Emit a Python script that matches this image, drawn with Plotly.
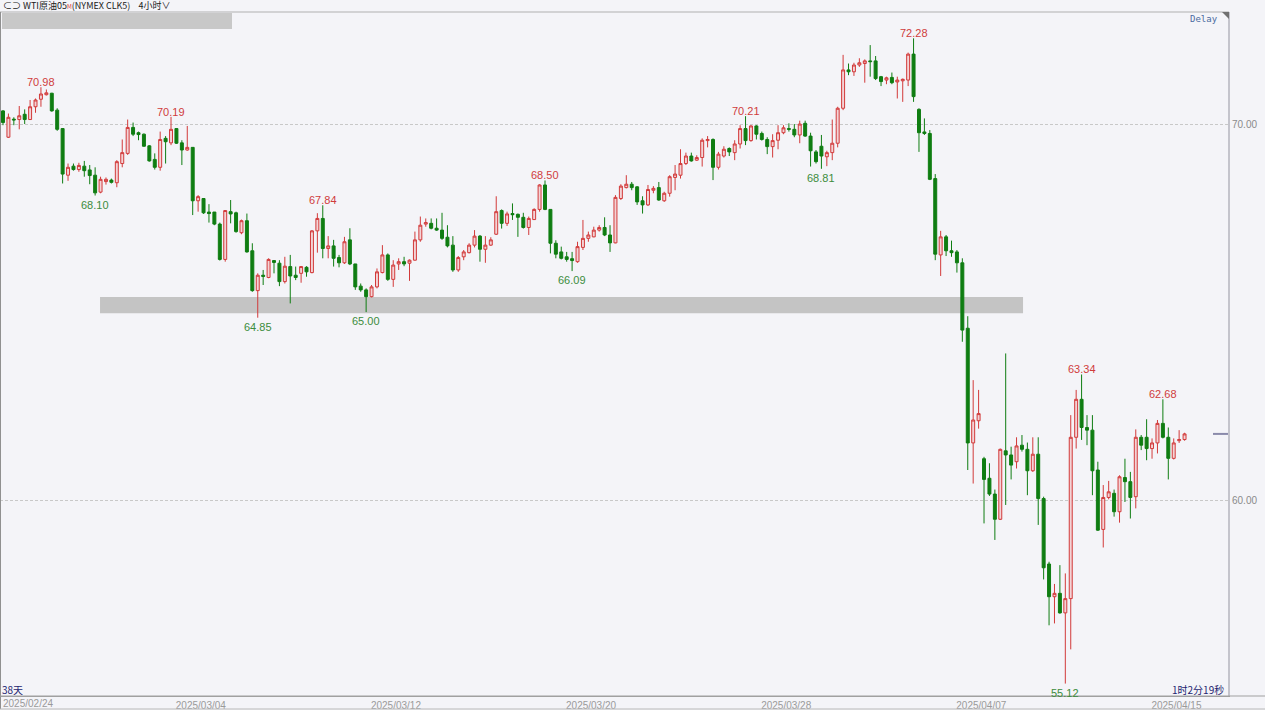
import plotly.graph_objects as go

# ---------------- data (4-hour WTI candles) ----------------
opens = [70.35, 69.65, 70.13, 70.12, 70.26, 70.12, 70.46, 70.66, 70.78, 70.82,
         70.37, 69.88, 68.64, 68.88, 68.79, 68.88, 68.78, 68.64, 68.19, 68.47,
         68.51, 68.44, 68.95, 69.22, 69.91, 69.77, 69.73, 69.42, 69.06, 68.85,
         69.62, 69.50, 69.88, 69.50, 69.31, 69.38, 67.96, 68.02, 67.66, 67.66,
         67.34, 66.40, 67.67, 67.64, 67.11, 67.43, 66.63, 65.57, 65.98, 65.92,
         66.37, 66.30, 65.81, 66.21, 65.98, 66.03, 66.19, 66.05, 67.16, 67.49,
         66.69, 66.76, 66.45, 66.31, 66.92, 66.28, 65.69, 65.59, 65.41, 65.67,
         66.05, 66.52, 65.87, 66.28, 66.34, 66.30, 66.38, 66.92, 67.34, 67.36,
         67.23, 67.18, 66.99, 66.78, 66.12, 66.47, 66.58, 66.78, 67.02, 66.67,
         66.78, 67.07, 67.70, 67.36, 67.62, 67.60, 67.52, 67.25, 67.46, 67.73,
         68.38, 67.73, 66.83, 66.60, 66.47, 66.42, 66.34, 66.72, 66.96, 67.00,
         67.18, 67.25, 67.05, 66.84, 68.02, 68.31, 68.40, 68.33, 67.96, 67.85,
         68.24, 68.31, 67.96, 68.16, 68.58, 68.64, 68.95, 69.15, 69.04, 69.11,
         69.56, 69.59, 68.85, 69.15, 69.35, 69.24, 69.47, 69.88, 69.56, 69.95,
         69.75, 69.59, 69.40, 69.57, 69.77, 69.88, 69.86, 69.71, 70.02, 69.68,
         69.26, 69.41, 69.13, 69.24, 69.49, 70.42, 71.44, 71.39, 71.57, 71.61,
         71.68, 71.68, 71.26, 71.17, 71.24, 71.12, 71.15, 71.17, 71.86, 70.39,
         69.79, 69.75, 68.55, 66.52, 67.00, 66.63, 66.60, 66.31, 64.57, 61.52,
         62.11, 61.10, 60.58, 60.16, 59.49, 61.31, 61.20, 61.02, 61.46, 61.35,
         60.78, 61.22, 60.04, 58.30, 57.43, 57.52, 57.00, 57.38, 61.67, 62.68,
         61.93, 61.86, 60.80, 59.22, 60.07, 60.18, 59.69, 60.60, 60.49, 60.09,
         61.67, 61.67, 61.37, 61.52, 62.04, 61.67, 61.11, 61.58, 61.61]
highs = [70.37, 70.28, 70.18, 70.48, 70.39, 70.64, 70.68, 70.98, 70.92, 70.83,
         70.42, 69.89, 68.95, 68.95, 68.97, 69.02, 68.91, 68.85, 68.60, 68.58,
         68.55, 69.04, 69.59, 70.12, 70.04, 69.80, 69.75, 69.44, 69.22, 69.80,
         69.68, 70.19, 69.89, 69.57, 69.95, 69.38, 68.11, 68.02, 67.87, 67.66,
         67.38, 67.71, 67.98, 67.67, 67.46, 67.62, 66.83, 66.03, 66.12, 66.43,
         66.38, 66.38, 66.47, 66.52, 66.21, 66.22, 66.22, 67.18, 67.63, 67.84,
         67.02, 66.92, 66.52, 67.00, 67.23, 66.28, 65.76, 65.63, 65.72, 66.16,
         66.78, 66.56, 66.38, 66.43, 66.47, 66.40, 67.14, 67.54, 67.49, 67.49,
         67.49, 67.64, 67.31, 67.02, 66.49, 66.65, 66.83, 67.18, 67.05, 67.02,
         66.99, 68.08, 67.73, 67.67, 67.89, 67.62, 67.64, 67.54, 67.76, 68.40,
         68.50, 67.73, 66.91, 66.74, 66.60, 66.60, 66.87, 67.45, 67.14, 67.27,
         67.31, 67.52, 67.31, 68.11, 68.40, 68.64, 68.46, 68.35, 68.08, 68.38,
         68.35, 68.46, 68.20, 68.64, 68.91, 69.33, 69.24, 69.24, 69.17, 69.62,
         69.68, 69.62, 69.26, 69.41, 69.38, 69.57, 69.97, 70.21, 69.97, 69.97,
         69.80, 69.65, 69.73, 69.97, 69.97, 70.02, 70.00, 70.09, 70.09, 69.77,
         69.31, 69.71, 69.29, 70.12, 70.46, 71.84, 71.61, 71.63, 71.75, 71.72,
         72.10, 71.81, 71.28, 71.26, 71.37, 71.26, 71.21, 71.90, 72.28, 70.42,
         70.15, 69.84, 68.67, 67.16, 67.05, 66.90, 66.65, 66.43, 64.89, 63.19,
         62.93, 61.15, 60.98, 60.28, 61.37, 63.90, 61.42, 61.67, 61.73, 61.53,
         61.67, 61.67, 60.09, 58.36, 57.77, 58.27, 58.05, 62.26, 62.93, 63.34,
         62.26, 62.26, 61.02, 60.40, 60.51, 60.28, 60.66, 61.10, 60.75, 61.88,
         61.73, 62.15, 61.64, 62.13, 62.68, 61.93, 61.64, 61.86, 61.79]
lows = [69.97, 69.63, 69.97, 69.86, 70.00, 70.11, 70.30, 70.46, 70.76, 70.33,
        69.82, 68.42, 68.49, 68.76, 68.73, 68.60, 68.40, 68.10, 68.16, 68.39,
        68.42, 68.32, 68.85, 69.18, 69.68, 69.57, 69.40, 69.00, 68.79, 68.76,
        68.95, 69.44, 69.47, 68.91, 69.29, 67.58, 67.67, 67.61, 67.38, 67.31,
        66.37, 66.34, 67.36, 67.11, 67.07, 66.58, 65.54, 64.85, 65.72, 65.90,
        66.03, 65.69, 65.76, 65.23, 65.85, 65.78, 65.94, 66.03, 66.58, 66.43,
        66.43, 66.21, 66.19, 66.28, 66.25, 65.59, 65.54, 65.00, 65.39, 65.63,
        66.03, 65.83, 65.67, 66.12, 66.22, 65.83, 66.37, 66.87, 67.27, 67.20,
        67.16, 66.92, 66.72, 66.07, 66.07, 66.38, 66.56, 66.72, 66.34, 66.31,
        66.76, 67.05, 67.22, 67.29, 67.45, 67.00, 67.22, 67.05, 67.45, 67.67,
        67.71, 66.56, 66.43, 66.40, 66.34, 66.09, 66.31, 66.65, 66.87, 66.99,
        67.14, 67.02, 66.60, 66.83, 67.98, 68.29, 68.24, 67.85, 67.62, 67.82,
        68.16, 67.96, 67.93, 68.07, 68.24, 68.55, 68.91, 69.00, 69.02, 68.87,
        69.38, 68.51, 68.79, 69.11, 69.15, 69.04, 69.35, 69.44, 69.53, 69.59,
        69.56, 69.20, 69.11, 69.33, 69.73, 69.80, 69.65, 69.49, 69.66, 68.87,
        68.95, 68.81, 68.88, 69.04, 69.38, 70.37, 71.30, 71.28, 71.52, 71.10,
        71.26, 71.17, 71.01, 71.06, 71.06, 70.68, 70.59, 71.01, 70.59, 69.26,
        69.71, 68.51, 66.38, 65.96, 66.49, 66.47, 66.05, 64.21, 60.80, 60.44,
        61.90, 59.38, 60.11, 58.94, 59.47, 59.87, 60.55, 60.84, 61.29, 60.13,
        60.75, 59.34, 57.89, 56.67, 56.72, 56.98, 55.12, 56.03, 61.37, 61.60,
        61.46, 60.13, 59.18, 58.74, 60.02, 59.56, 59.40, 59.95, 59.51, 59.78,
        61.33, 61.06, 61.10, 61.24, 61.64, 60.55, 61.08, 61.52, 61.58]
closes = [70.04, 70.18, 70.11, 70.22, 70.12, 70.46, 70.64, 70.80, 70.83, 70.35,
          69.86, 68.67, 68.85, 68.79, 68.90, 68.76, 68.63, 68.17, 68.53, 68.53,
          68.45, 69.00, 69.24, 69.91, 69.73, 69.72, 69.41, 69.02, 68.85, 69.59,
          69.53, 69.86, 69.49, 69.31, 69.38, 67.96, 68.07, 67.64, 67.62, 67.34,
          66.40, 67.70, 67.61, 67.14, 67.43, 66.60, 65.57, 65.98, 65.95, 66.40,
          66.32, 65.81, 66.22, 65.96, 65.92, 66.21, 66.07, 67.16, 67.49, 66.69,
          66.76, 66.43, 66.31, 66.87, 66.28, 65.67, 65.59, 65.41, 65.67, 66.07,
          66.52, 65.87, 66.25, 66.34, 66.28, 66.38, 66.92, 67.31, 67.38, 67.23,
          67.18, 66.96, 66.76, 66.12, 66.45, 66.60, 66.78, 67.02, 66.67, 66.78,
          66.92, 67.67, 67.36, 67.61, 67.59, 67.52, 67.25, 67.49, 67.73, 68.38,
          67.73, 66.83, 66.54, 66.43, 66.40, 66.37, 66.74, 66.96, 67.05, 67.18,
          67.25, 67.05, 66.84, 68.05, 68.35, 68.40, 68.31, 67.93, 67.85, 68.26,
          68.29, 67.98, 68.16, 68.60, 68.67, 68.95, 69.15, 69.02, 69.11, 69.57,
          69.59, 68.85, 69.20, 69.33, 69.26, 69.47, 69.88, 69.56, 69.95, 69.73,
          69.59, 69.40, 69.56, 69.77, 69.90, 69.86, 69.71, 70.00, 69.68, 69.29,
          69.00, 69.15, 69.24, 69.49, 70.42, 71.44, 71.39, 71.57, 71.63, 71.68,
          71.66, 71.21, 71.13, 71.23, 71.10, 71.17, 71.19, 71.86, 70.73, 69.77,
          69.75, 68.53, 66.54, 67.00, 66.63, 66.58, 66.31, 64.52, 61.52, 62.13,
          62.30, 60.55, 60.16, 59.49, 61.35, 61.20, 60.93, 61.44, 61.35, 60.78,
          61.22, 60.04, 58.20, 57.43, 57.52, 57.00, 57.38, 61.67, 62.68, 61.93,
          61.86, 60.78, 59.20, 60.07, 60.22, 59.69, 60.62, 60.49, 60.07, 61.67,
          61.46, 61.37, 61.52, 62.04, 61.67, 61.11, 61.52, 61.61, 61.76]

high_label_idx = [7, 31, 59, 100, 137, 168, 199, 214]
low_label_idx = [17, 47, 67, 105, 151, 196]

date_tick_idx = [36.5, 72.5, 108.5, 144.5, 180.5, 216.5]
date_tick_text = ["2025/03/04", "2025/03/12", "2025/03/20", "2025/03/28", "2025/04/07", "2025/04/15"]
first_date_text = "2025/02/24"

price_ticks = [60, 70]
price_tick_text = ["60.00", "70.00"]

band_start_idx, band_end_idx = 17.9, 188.2
band_low, band_high = 64.97, 65.40

# ---------------- layout constants ----------------
W, H = 1265, 710
ML, MR, MT, MB = 0, 37, 12, 14
PW, PH = W - ML - MR, H - MT - MB
BG = "#f4f4f8"
RED = "#d23a3a"
GREEN = "#0f7d12"


def px(xp):
    return (xp - ML) / PW


def py(yp):
    return (H - MB - yp) / PH


x_idx = list(range(len(opens)))

fig = go.Figure()
fig.add_trace(go.Candlestick(
    x=x_idx, open=opens, high=highs, low=lows, close=closes,
    increasing=dict(line=dict(color=RED, width=1), fillcolor="#f3d3d6"),
    decreasing=dict(line=dict(color=GREEN, width=1), fillcolor=GREEN),
    whiskerwidth=0, hoverinfo="skip", showlegend=False,
))

annotations = []
for i in high_label_idx:
    annotations.append(dict(x=i, y=highs[i], xref="x", yref="y", text=f"{highs[i]:.2f}",
                            showarrow=False, yanchor="bottom", yshift=-3,
                            font=dict(family="Liberation Sans, Arial", size=11, color="#d03c3c")))
for i in low_label_idx:
    annotations.append(dict(x=i, y=lows[i], xref="x", yref="y", text=f"{lows[i]:.2f}",
                            showarrow=False, yanchor="top", yshift=-1,
                            font=dict(family="Liberation Sans, Arial", size=11, color="#3c8c3c")))

# header
annotations.append(dict(x=px(1), y=py(6), xref="paper", yref="paper", xanchor="left", yanchor="middle",
                        showarrow=False,
                        text="⊂⊃ WTI原油05<span style='color:#e04040;font-size:6px'>M</span>(NYMEX CLK5)&nbsp;&nbsp;&nbsp; 4小时∨",
                        font=dict(family="Noto Sans CJK SC", size=9, color="#202020")))
annotations.append(dict(x=px(1220), y=py(19), xref="paper", yref="paper", xanchor="right", yanchor="middle",
                        showarrow=False, text="Delay",
                        font=dict(family="DejaVu Sans Mono", size=9, color="#4a6aa0")))
annotations.append(dict(x=px(0), y=py(689), xref="paper", yref="paper", xanchor="left", yanchor="middle",
                        showarrow=False, text="38天",
                        font=dict(family="Noto Sans CJK SC", size=10, color="#1e1e70")))
annotations.append(dict(x=px(1226), y=py(689), xref="paper", yref="paper", xanchor="right", yanchor="middle",
                        showarrow=False, text="1时2分19秒",
                        font=dict(family="Noto Sans CJK SC", size=10, color="#1e1e70")))
annotations.append(dict(x=px(1), y=py(703), xref="paper", yref="paper", xanchor="left", yanchor="middle",
                        showarrow=False, text=first_date_text,
                        font=dict(family="Liberation Sans, Arial", size=10, color="#9a9a9a")))

shapes = [
    # support band
    dict(type="rect", xref="x", yref="y", x0=band_start_idx, x1=band_end_idx, y0=band_low, y1=band_high,
         fillcolor="#c4c4c4", line=dict(width=0), layer="below"),
    # header gray bar
    dict(type="rect", xref="paper", yref="paper", x0=px(2), x1=px(232), y0=py(29), y1=py(13),
         fillcolor="#c8c8c8", line=dict(width=0), layer="below"),
    # top border
    dict(type="line", xref="paper", yref="paper", x0=0, x1=px(1229), y0=py(12), y1=py(12),
         line=dict(color="#b0b0b0", width=1)),
    # left border
    dict(type="line", xref="paper", yref="paper", x0=px(0.5), x1=px(0.5), y0=py(12), y1=py(709),
         line=dict(color="#909090", width=1)),
    # bottom axis line full width
    dict(type="line", xref="paper", yref="paper", x0=0, x1=px(W), y0=py(696), y1=py(696),
         line=dict(color="#a0a0a0", width=1)),
    # bottom frame
    dict(type="line", xref="paper", yref="paper", x0=0, x1=px(W), y0=py(709), y1=py(709),
         line=dict(color="#b8b8b8", width=1)),
    # corner triangle
    dict(type="path", xref="paper", yref="paper",
         path=f"M {px(1222)},{py(12)} L {px(1229)},{py(12)} L {px(1229)},{py(19)} Z",
         fillcolor="#707070", line=dict(width=0)),
    # last price marker
    dict(type="line", xref="paper", yref="y", x0=px(1213), x1=px(1228), y0=closes[-1], y1=closes[-1],
         line=dict(color="#8a8aaa", width=2)),
]

fig.update_layout(
    width=W, height=H,
    margin=dict(l=ML, r=MR, t=MT, b=MB, pad=0),
    paper_bgcolor=BG, plot_bgcolor=BG,
    boxgap=0.22,
    showlegend=False,
    annotations=annotations,
    shapes=shapes,
    xaxis=dict(
        range=[-3 / 5.42, (PW - 3) / 5.42],
        rangeslider=dict(visible=False),
        showgrid=False, zeroline=False,
        showline=True, linecolor="#a0a0a0", linewidth=1,
        tickmode="array", tickvals=date_tick_idx, ticktext=date_tick_text,
        ticks="", tickfont=dict(family="Liberation Sans, Arial", size=10, color="#9a9a9a"),
        fixedrange=True,
    ),
    yaxis=dict(
        range=[54.79, 72.98],
        side="right",
        showgrid=True, gridcolor="#c8c8c8", gridwidth=1, griddash="3px,2px",
        zeroline=False,
        showline=True, linecolor="#c4c4cc", linewidth=2,
        tickmode="array", tickvals=price_ticks, ticktext=price_tick_text,
        ticks="", tickfont=dict(family="Liberation Sans, Arial", size=10, color="#8a8a8a"),
        fixedrange=True,
    ),
)

fig.write_html(
    "out.html",
    config={"displayModeBar": False},
    post_script="document.body.style.margin='0px';document.body.style.overflow='hidden';",
)
